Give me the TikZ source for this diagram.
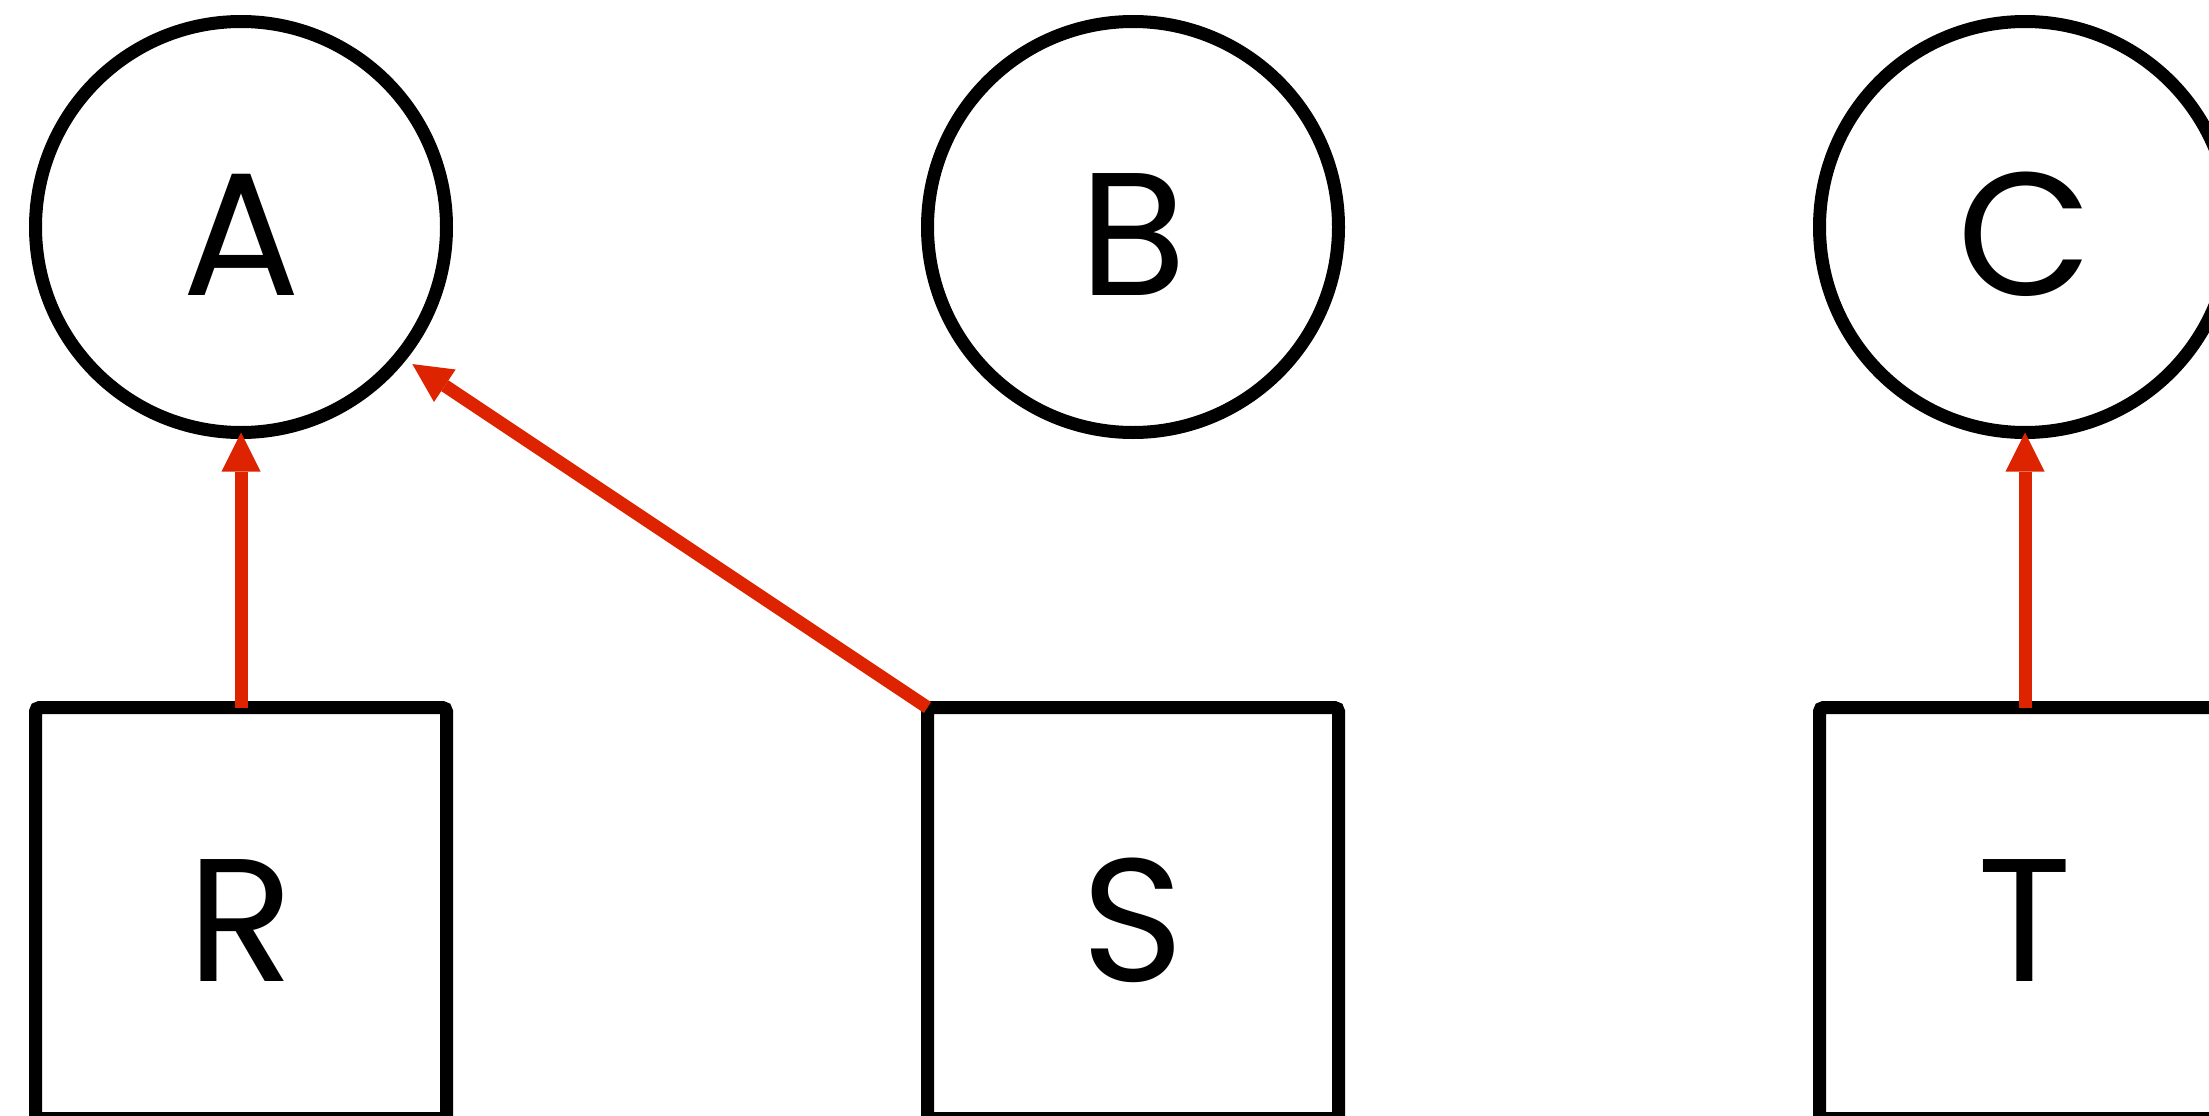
\documentclass[tikz,border=0pt]{standalone}
\usepackage{fontspec}
\setmainfont{Poppins}
\usetikzlibrary{arrows.meta}
\definecolor{arrred}{RGB}{221,35,0}
\begin{document}
\begin{tikzpicture}[x=1pt,y=-1pt,
  lettr/.style={font=\fontsize{175}{175}\selectfont, text=black, text height=136pt, text depth=0pt},
  circ/.style={circle, draw=black, line width=13pt, minimum size=411pt, inner sep=0pt, outer sep=0pt, lettr},
  sq/.style={rectangle, draw=black, line width=13pt, minimum width=411pt, minimum height=411pt, inner sep=0pt, outer sep=0pt, rounded corners=4pt, lettr},
  link/.style={draw=arrred, line width=13pt, -{Triangle[length=39pt,width=39pt,line width=0pt]}}]
\clip (0,0) rectangle (2209,1116);
\fill[white] (0,0) rectangle (2209,1116);
\node[circ] (A) at (241,227) {A};
\node[circ] (B) at (1133,227) {B};
\node[circ] (C) at (2025,227) {C};
\node[sq] (R) at (241,913) {R};
\node[sq] (S) at (1133,913) {S};
\node[sq] (T) at (2025,913) {T};
\draw[link] (R) -- (A);
\draw[link] (T) -- (C);
\draw[link, shorten >=14pt] (S.north west) -- (A.-39);
\end{tikzpicture}
\end{document}
